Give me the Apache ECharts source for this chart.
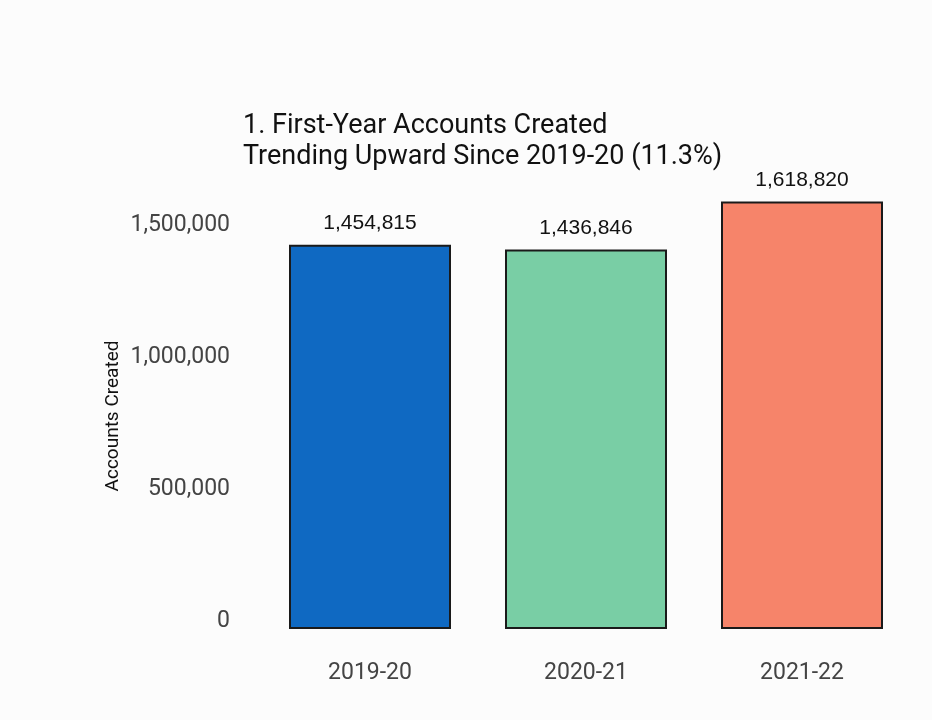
<!DOCTYPE html>
<html>
<head>
<meta charset="utf-8">
<script src="https://cdn.jsdelivr.net/npm/echarts@6/dist/echarts.min.js"></script>
<style>html,body{margin:0;padding:0;background:#fcfcfc;}#c{width:932px;height:720px;}</style>
</head>
<body>
<div id="c"></div>
<script>
const categories = ['2019-20', '2020-21', '2021-22'];
const accounts = [1454815, 1436846, 1618820];
const barColors = ['#0f69c2', '#79cea5', '#f6846a'];
const yTicks = [0, 500000, 1000000, 1500000];

const fmt = v => v.toLocaleString('en-US');
const chart = echarts.init(document.getElementById('c'));
chart.setOption({
  backgroundColor: '#fcfcfc',
  textStyle: { fontFamily: 'Roboto' },
  title: {
    text: '1. First-Year Accounts Created\nTrending Upward Since 2019-20 (11.3%)',
    left: 238, top: 106,
    textStyle: { fontFamily: 'Roboto', fontSize: 27, fontWeight: 'normal', color: '#111', lineHeight: 31 }
  },
  grid: { left: 262, right: 22, top: 180, bottom: 91 },
  xAxis: {
    type: 'category', data: categories,
    axisLine: { show: false }, axisTick: { show: false },
    axisLabel: { fontSize: 23, color: '#444', margin: 33, fontFamily: 'Roboto' }
  },
  yAxis: {
    type: 'value', min: 0, max: 1700000, interval: 500000,
    splitLine: { show: false }, axisLine: { show: false }, axisTick: { show: false },
    axisLabel: {
      fontSize: 23, color: '#444', margin: 32, fontFamily: 'Roboto',
      verticalAlign: 'bottom', lineHeight: 16,
      formatter: v => yTicks.includes(v) ? fmt(v) : ''
    }
  },
  graphic: [{
    type: 'text', x: 113, y: 416, rotation: Math.PI / 2,
    style: { text: 'Accounts Created', fontSize: 19, fontFamily: 'Roboto', fill: '#111',
      align: 'center', verticalAlign: 'middle' }
  }],
  series: [{
    type: 'bar', barWidth: '75%',
    data: accounts.map((v, i) => ({ value: v, itemStyle: { color: barColors[i] } })),
    itemStyle: { borderColor: '#1a1a1a', borderWidth: 2 },
    label: { show: true, position: 'top', distance: 11, fontSize: 21, color: '#111',
      fontFamily: 'Liberation Sans', formatter: p => fmt(p.value) }
  }]
});
</script>
</body>
</html>
